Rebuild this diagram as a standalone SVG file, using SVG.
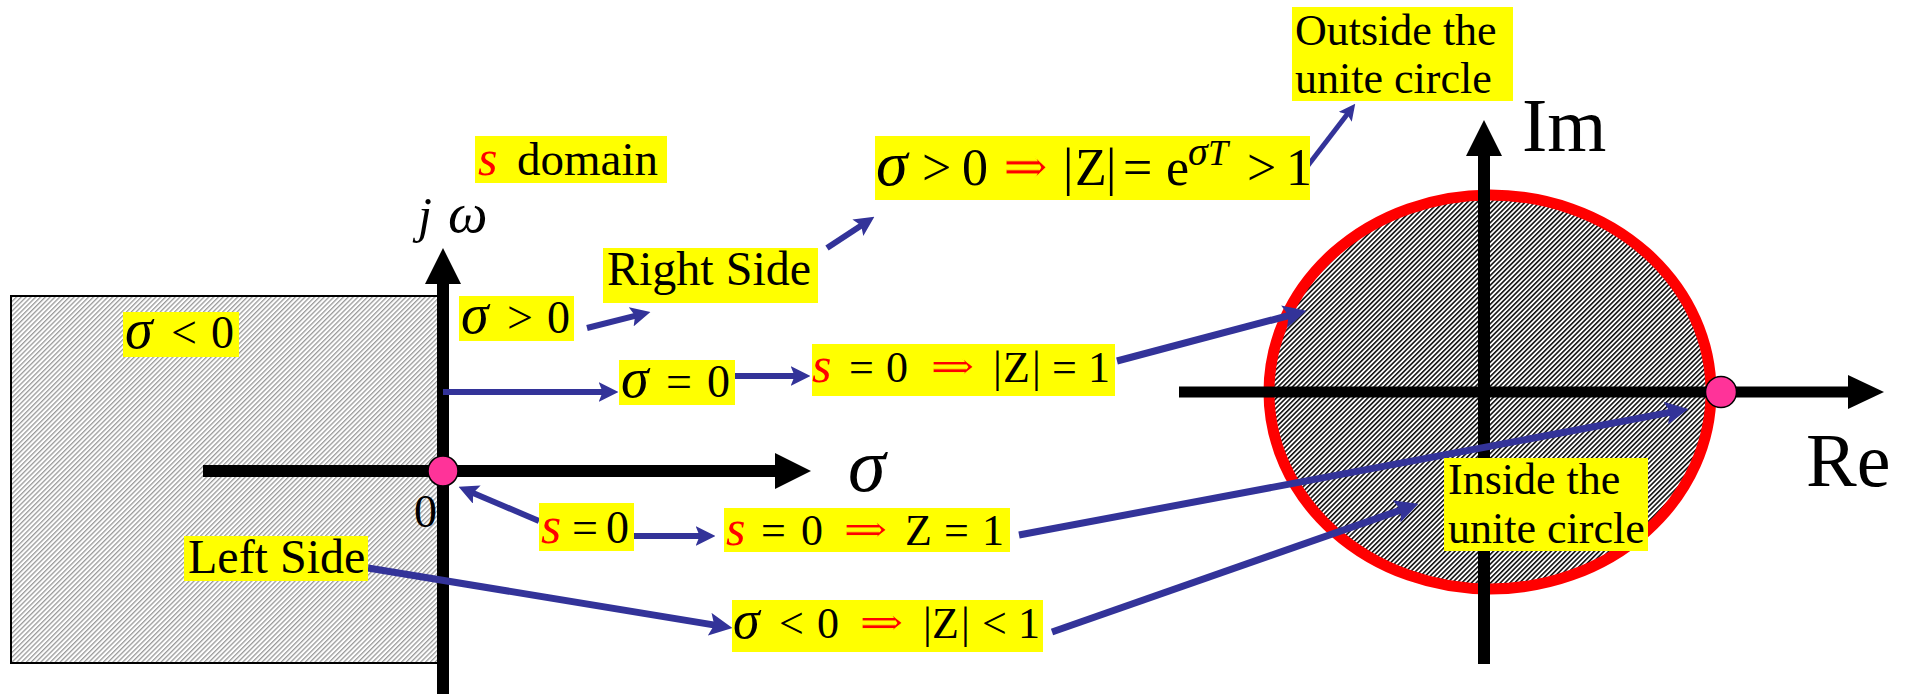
<svg xmlns="http://www.w3.org/2000/svg" width="1911" height="694" viewBox="0 0 1911 694">
<style>
.t{font-family:"Liberation Serif","DejaVu Serif",serif;fill:#000}
.i{font-style:italic}
.r{fill:#ff0000}
.hl{fill:#ffff00}
.ax{stroke:#000;stroke-width:12;fill:none}
.axh{fill:#000}
.conn{stroke:#333399;fill:none;marker-end:url(#ah)}
.dot{fill:#ff3399;stroke:#000;stroke-width:1.5}
.imp{font-family:"DejaVu Serif","DejaVu Sans",serif;fill:#ff0000;stroke:#ffff00;stroke-width:0.8}
</style>
<defs>
<pattern id="hatchGray" patternUnits="userSpaceOnUse" width="3.4" height="3.4" patternTransform="rotate(-45)">
<rect width="3.4" height="3.4" fill="#fff"/>
<rect width="3.4" height="1.3" fill="#9a9a9a"/>
</pattern>
<pattern id="hatchBlack" patternUnits="userSpaceOnUse" width="3.4" height="3.4" patternTransform="rotate(-45)">
<rect width="3.4" height="3.4" fill="#fff"/>
<rect width="3.4" height="1.6" fill="#111"/>
</pattern>
<marker id="ah" viewBox="0 0 10 10" refX="3" refY="5" markerWidth="3.3" markerHeight="3.3" orient="auto">
<path d="M0,0 L10,5 L0,10 L2,5 z" fill="#333399"/>
</marker>
</defs>
<rect width="1911" height="694" fill="#fff"/>

<g id="s-plane">
<rect x="11" y="296" width="427" height="367" fill="url(#hatchGray)" stroke="#000" stroke-width="2"/>
<line class="ax" x1="203" y1="471" x2="776" y2="471"/>
<polygon class="axh" points="775,453 811,471 775,489"/>
<line class="ax" x1="443" y1="283" x2="443" y2="694"/>
<polygon class="axh" points="425,284 443,248 461,284"/>
<circle class="dot" cx="443" cy="471" r="15"/>
<text class="t" x="414" y="527" font-size="46">0</text>
<text class="t i" x="848" y="491" font-size="76">σ</text>
<text class="t i" y="232" font-size="50"><tspan x="418">j</tspan><tspan x="448" font-size="56">ω</tspan></text>
</g>

<g id="z-plane">
<ellipse cx="1490" cy="392" rx="221" ry="197" fill="url(#hatchBlack)" stroke="#ff0000" stroke-width="11"/>
<line class="ax" x1="1179" y1="392" x2="1849" y2="392" style="stroke-width:11"/>
<polygon class="axh" points="1848,375 1884,392 1848,409"/>
<line class="ax" x1="1484" y1="155" x2="1484" y2="664"/>
<polygon class="axh" points="1466,156 1484,120 1502,156"/>
<circle class="dot" cx="1721" cy="392" r="15.5"/>
<text class="t" x="1522" y="151" font-size="76">Im</text>
<text class="t" x="1806" y="486" font-size="76">Re</text>
</g>

<g id="connectors">
<line class="conn" stroke-width="6" x1="587" y1="328" x2="637" y2="315.3"/>
<line class="conn" stroke-width="6" x1="827" y1="248" x2="862.8" y2="224.4"/>
<line class="conn" stroke-width="6" x1="443" y1="392" x2="604.6" y2="392"/>
<line class="conn" stroke-width="6" x1="735" y1="376" x2="796.6" y2="376"/>
<line class="conn" stroke-width="7" x1="1117" y1="361" x2="1290.8" y2="315"/>
<line class="conn" stroke-width="5" x1="1306" y1="168" x2="1348.2" y2="112.9"/>
<line class="conn" stroke-width="6" x1="539" y1="521" x2="471.3" y2="492.2"/>
<line class="conn" stroke-width="6" x1="634" y1="536" x2="701.6" y2="536"/>
<line class="conn" stroke-width="7" x1="1019" y1="535" x2="1672.6" y2="411.9"/>
<line class="conn" stroke-width="7" x1="368" y1="568" x2="716.5" y2="625.4"/>
<line class="conn" stroke-width="7" x1="1052" y1="632" x2="1403.2" y2="509.2"/>
</g>

<g id="label-sdomain">
<rect class="hl" x="475" y="136" width="192" height="47"/>
<text class="t" y="175" font-size="47"><tspan class="i r" x="478" font-size="50">s</tspan><tspan x="517">domain</tspan></text>
</g>

<g id="label-sigma-lt0">
<rect class="hl" x="123" y="312" width="116" height="45"/>
<text class="t" y="348" font-size="46"><tspan class="i" x="125" font-size="56">σ</tspan><tspan x="171">&lt;</tspan><tspan x="211">0</tspan></text>
</g>

<g id="label-left-side">
<rect class="hl" x="184" y="536" width="184" height="45"/>
<text class="t" x="188" y="573" font-size="48">Left Side</text>
</g>

<g id="label-sigma-gt0">
<rect class="hl" x="459" y="296" width="115" height="45"/>
<text class="t" y="333" font-size="46"><tspan class="i" x="461" font-size="56">σ</tspan><tspan x="507">&gt;</tspan><tspan x="547">0</tspan></text>
</g>

<g id="label-right-side">
<rect class="hl" x="603" y="248" width="215" height="55"/>
<text class="t" x="607" y="285" font-size="48">Right Side</text>
</g>

<g id="label-sigma-eq0">
<rect class="hl" x="619" y="360" width="116" height="45"/>
<text class="t" y="397" font-size="46"><tspan class="i" x="621" font-size="56">σ</tspan><tspan x="666">=</tspan><tspan x="707">0</tspan></text>
</g>

<g id="label-s0-absZ1">
<rect class="hl" x="812" y="344" width="303" height="52"/>
<text class="t" y="382" font-size="44"><tspan class="i r" x="812" font-size="50">s</tspan><tspan x="849">=</tspan><tspan x="886">0</tspan><tspan x="993">|</tspan><tspan x="1003">Z</tspan><tspan x="1032">|</tspan><tspan x="1052">=</tspan><tspan x="1088">1</tspan></text>
<text class="imp" x="930" y="381" font-size="44" textLength="45" lengthAdjust="spacingAndGlyphs">⇒</text>
</g>

<g id="label-sigma-gt0-exp">
<rect class="hl" x="875" y="136" width="435" height="64"/>
<text class="t" y="185" font-size="52"><tspan class="i" x="876" font-size="64">σ</tspan><tspan x="922">&gt;</tspan><tspan x="962">0</tspan><tspan x="1063">|</tspan><tspan x="1075">Z</tspan><tspan x="1106">|</tspan><tspan x="1123">=</tspan><tspan x="1166">e</tspan><tspan x="1247">&gt;</tspan><tspan x="1286">1</tspan></text>
<text class="t i" y="165" font-size="36"><tspan x="1188" font-size="40">σ</tspan><tspan x="1208">T</tspan></text>
<text class="imp" x="1003" y="184" font-size="52" textLength="45" lengthAdjust="spacingAndGlyphs">⇒</text>
</g>

<g id="label-outside">
<rect class="hl" x="1292" y="7" width="221" height="94"/>
<text class="t" x="1295" y="45" font-size="44">Outside the</text>
<text class="t" x="1295" y="93" font-size="44">unite circle</text>
</g>

<g id="label-s-eq0">
<rect class="hl" x="539" y="503" width="95" height="48"/>
<text class="t" y="543" font-size="46"><tspan class="i r" x="541" font-size="52">s</tspan><tspan x="572">=</tspan><tspan x="606">0</tspan></text>
</g>

<g id="label-s0-Z1">
<rect class="hl" x="724" y="508" width="286" height="44"/>
<text class="t" y="545" font-size="44"><tspan class="i r" x="726" font-size="50">s</tspan><tspan x="761">=</tspan><tspan x="801">0</tspan><tspan x="905">Z</tspan><tspan x="944">=</tspan><tspan x="982">1</tspan></text>
<text class="imp" x="843" y="544" font-size="44" textLength="45" lengthAdjust="spacingAndGlyphs">⇒</text>
</g>

<g id="label-sigma-lt0-absZ">
<rect class="hl" x="732" y="600" width="311" height="52"/>
<text class="t" y="638" font-size="44"><tspan class="i" x="733" font-size="54">σ</tspan><tspan x="779">&lt;</tspan><tspan x="817">0</tspan><tspan x="923">|</tspan><tspan x="932">Z</tspan><tspan x="961">|</tspan><tspan x="982">&lt;</tspan><tspan x="1018">1</tspan></text>
<text class="imp" x="859" y="637" font-size="44" textLength="45" lengthAdjust="spacingAndGlyphs">⇒</text>
</g>

<g id="label-inside">
<rect class="hl" x="1444" y="458" width="204" height="93"/>
<text class="t" x="1448" y="494" font-size="44">Inside the</text>
<text class="t" x="1448" y="543" font-size="44">unite circle</text>
</g>
</svg>
